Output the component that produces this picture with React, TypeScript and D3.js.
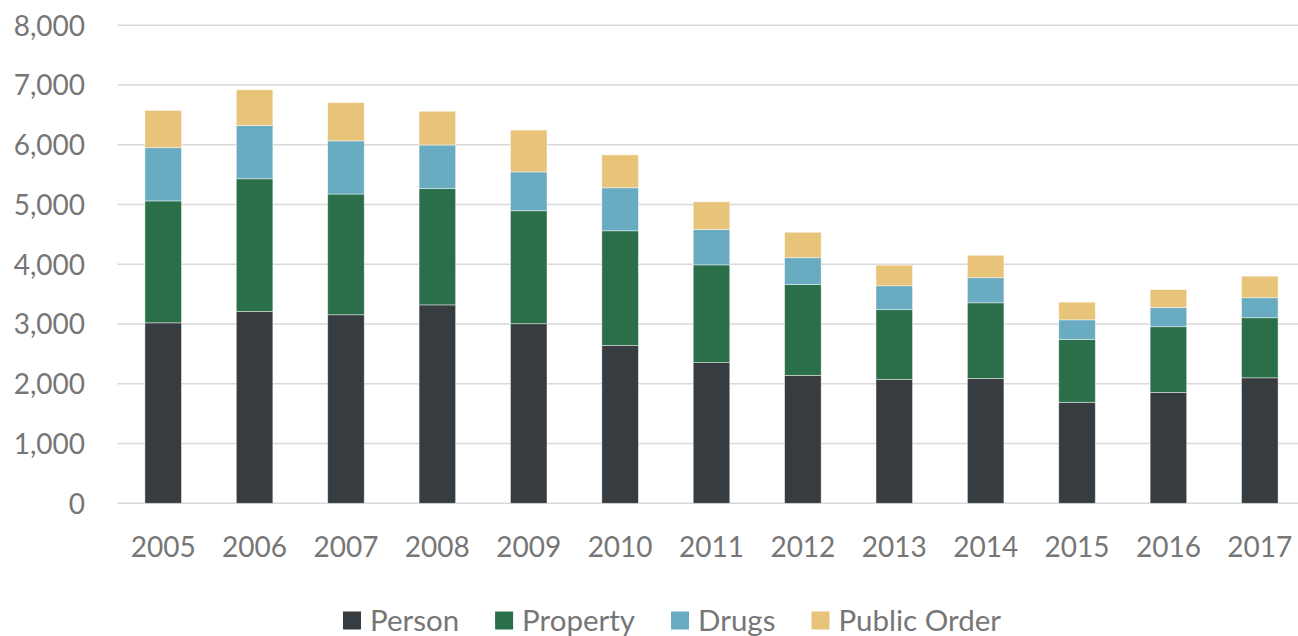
import React, { useEffect, useRef } from "react";
import * as d3 from "d3";

const years = ["2005", "2006", "2007", "2008", "2009", "2010", "2011", "2012", "2013", "2014", "2015", "2016", "2017"];
const person = [3020, 3210, 3155, 3320, 3005, 2640, 2355, 2140, 2075, 2090, 1690, 1855, 2100];
const property = [2040, 2220, 2020, 1945, 1890, 1920, 1635, 1520, 1165, 1265, 1050, 1100, 1005];
const drugs = [890, 890, 890, 730, 650, 720, 590, 450, 400, 420, 330, 320, 335];
const publicOrder = [625, 600, 640, 565, 700, 550, 465, 425, 345, 375, 295, 300, 360];
const seriesNames = ["Person", "Property", "Drugs", "Public Order"];
const seriesColors = ["#373c41", "#2a6e4a", "#69abc0", "#e8c47b"];
const yTicks = [0, 1000, 2000, 3000, 4000, 5000, 6000, 7000, 8000];

const W = 1298;
const H = 636;
const FONT = "Lato, 'Open Sans', sans-serif";
const TEXT = "#767676";

export default function App() {
  const ref = useRef<SVGSVGElement>(null);

  useEffect(() => {
    const svg = d3.select(ref.current);
    svg.selectAll("*").remove();

    const x = d3.scaleBand<string>().domain(years).range([117.5, 1305.5]).paddingInner(0.6).paddingOuter(0.3);
    const y = d3.scaleLinear().domain([0, 8000]).range([503.3, 25.2]);

    // gridlines
    svg.append("g")
      .selectAll("line")
      .data(yTicks)
      .join("line")
      .attr("x1", 117.5)
      .attr("x2", W)
      .attr("y1", (d) => y(d))
      .attr("y2", (d) => y(d))
      .attr("stroke", "#d9d9d9")
      .attr("stroke-width", 1.6);

    // y labels
    svg.append("g")
      .selectAll("text")
      .data(yTicks)
      .join("text")
      .attr("x", 85)
      .attr("y", (d) => y(d) + 10.3)
      .attr("text-anchor", "end")
      .attr("font-family", FONT)
      .attr("font-size", 28)
      .attr("fill", TEXT)
      .text((d) => d3.format(",")(d));

    // stacked data
    const rows = years.map((yr, i) => ({
      year: yr,
      Person: person[i],
      Property: property[i],
      Drugs: drugs[i],
      "Public Order": publicOrder[i],
    }));
    const stack = d3.stack<any>().keys(seriesNames)(rows);

    svg.append("g")
      .selectAll("g")
      .data(stack)
      .join("g")
      .attr("fill", (_d, i) => seriesColors[i])
      .selectAll("rect")
      .data((d) => d)
      .join("rect")
      .attr("x", (d: any) => x(d.data.year)!)
      .attr("width", x.bandwidth())
      .attr("y", (d) => y(d[1]))
      .attr("height", (d) => y(d[0]) - y(d[1]))
      .attr("stroke", "rgba(255,255,255,0.55)")
      .attr("stroke-width", 0.8);

    // x labels
    svg.append("g")
      .selectAll("text")
      .data(years)
      .join("text")
      .attr("x", (d) => x(d)! + x.bandwidth() / 2)
      .attr("y", 557)
      .attr("text-anchor", "middle")
      .attr("font-family", FONT)
      .attr("font-size", 28)
      .attr("fill", TEXT)
      .text((d) => d);

    // legend
    const legend = svg.append("g");
    const items = seriesNames.map((name, i) => {
      const g = legend.append("g");
      g.append("rect").attr("width", 18).attr("height", 18).attr("y", -19).attr("fill", seriesColors[i]);
      const t = g.append("text")
        .attr("x", 27)
        .attr("y", 0)
        .attr("font-family", FONT)
        .attr("font-size", 29.5)
        .attr("fill", TEXT)
        .text(name);
      const w = 27 + (t.node() as SVGTextElement).getComputedTextLength();
      return { g, w };
    });
    const gap = 36;
    const total = d3.sum(items, (d) => d.w) + gap * (items.length - 1);
    let cx = 672 - total / 2;
    items.forEach((it) => {
      it.g.attr("transform", `translate(${cx},630.5)`);
      cx += it.w + gap;
    });
  }, []);

  return (
    <svg
      ref={ref}
      width={W}
      height={H}
      style={{ position: "absolute", left: 0, top: 0, display: "block", background: "#fff" }}
    />
  );
}
